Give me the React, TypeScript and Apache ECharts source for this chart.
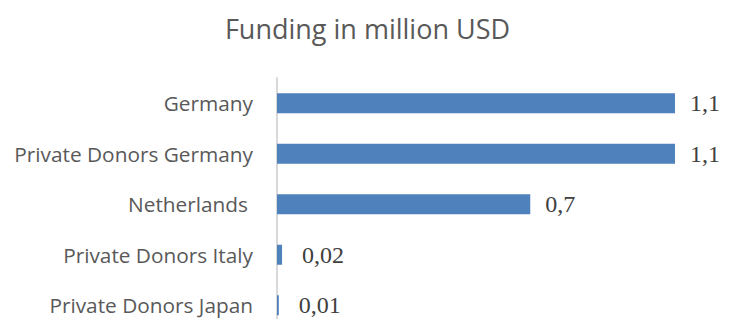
import React, { useEffect, useRef } from "react";
import * as echarts from "echarts";

const categories = [
  "Germany",
  "Private Donors Germany",
  "Netherlands",
  "Private Donors Italy",
  "Private Donors Japan",
];
const values = [1.1, 1.1, 0.7, 0.014, 0.005];
const valueLabels = ["1,1", "1,1", "0,7", "0,02", "0,01"];
const titleText = "Funding in million USD";

export default function App() {
  const ref = useRef<HTMLDivElement>(null);

  useEffect(() => {
    if (!ref.current) return;
    const chart = echarts.init(ref.current, undefined, { renderer: "svg" });
    const seriesData = values.map((v) => ({
      value: v,
      label: { distance: v < 0.1 ? 20 : 15 },
    }));
    chart.setOption({
      animation: false,
      backgroundColor: "#ffffff",
      title: {
        text: titleText,
        left: "center",
        top: 10,
        textStyle: {
          fontFamily: "Open Sans",
          fontSize: 27,
          fontWeight: "normal",
          color: "#595959",
        },
      },
      grid: { left: 277, top: 78, width: 398, height: 252.5, containLabel: false },
      xAxis: {
        type: "value",
        min: 0,
        max: 1.1,
        show: false,
      },
      yAxis: {
        type: "category",
        data: categories,
        inverse: true,
        axisTick: { show: false },
        axisLine: { show: true, lineStyle: { color: "#d9d9d9", width: 2 } },
        axisLabel: {
          margin: 24,
          fontFamily: "Open Sans",
          fontSize: 20.8,
          color: "#595959",
          formatter: (v: string) => (v === "Netherlands" ? "{n|" + v + "}" : v),
          rich: {
            n: {
              fontFamily: "Open Sans",
              fontSize: 20.8,
              color: "#595959",
              padding: [0, 5, 0, 0],
            },
          },
        },
        splitLine: { show: false },
      },
      series: [
        {
          type: "bar",
          data: seriesData,
          barWidth: 20,
          itemStyle: { color: "#4f81bd" },
          label: {
            show: true,
            position: "right",
            distance: 15,
            fontFamily: "Liberation Serif",
            fontSize: 24,
            color: "#404040",
            formatter: (p: any) => valueLabels[p.dataIndex],
          },
        },
      ],
    });
    return () => chart.dispose();
  }, []);

  return (
    <div style={{ position: "fixed", left: 0, top: 0, width: 735, height: 319, overflow: "hidden" }}>
      <div ref={ref} style={{ width: 735, height: 340 }} />
    </div>
  );
}
